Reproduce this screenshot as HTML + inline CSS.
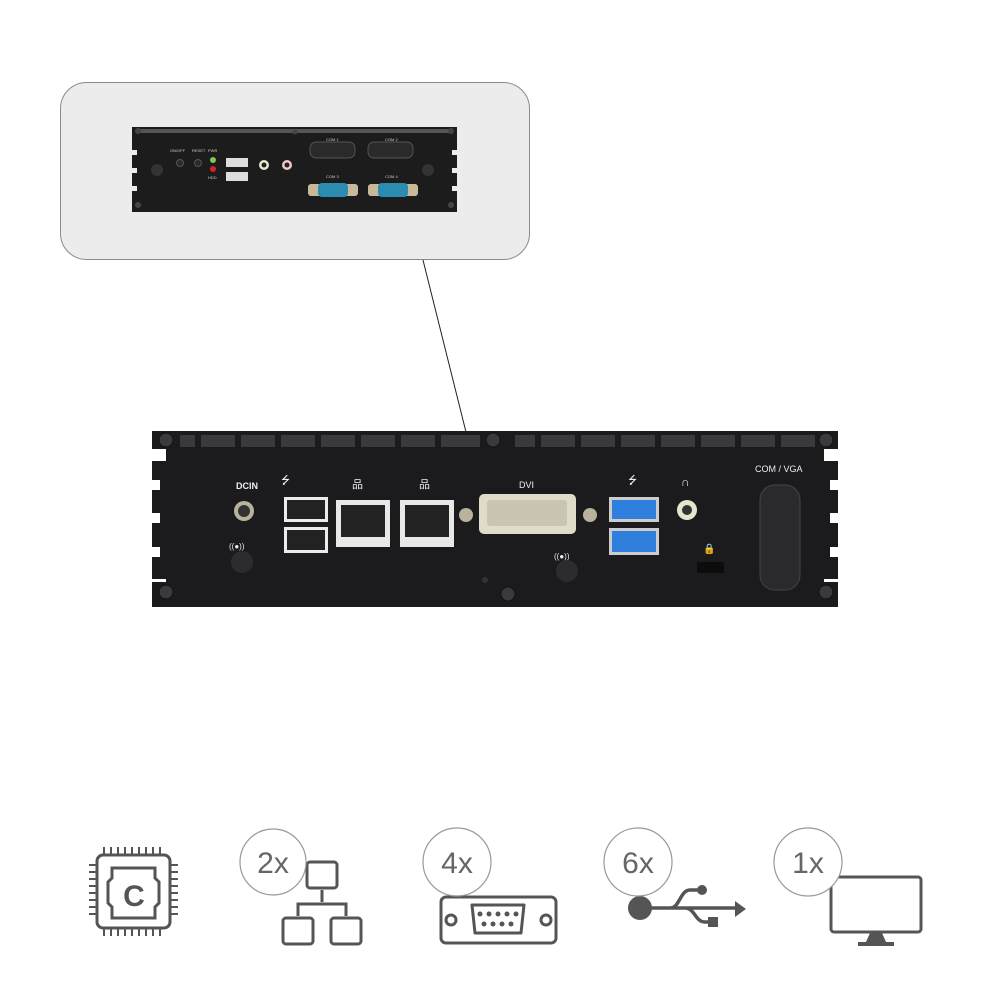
<!DOCTYPE html>
<html><head><meta charset="utf-8"><style>
html,body{margin:0;padding:0;background:#fff;}
svg{display:block}
text{font-family:"Liberation Sans",sans-serif}
</style></head><body>
<svg width="1000" height="1000" viewBox="0 0 1000 1000" xmlns="http://www.w3.org/2000/svg">
<rect x="60.5" y="82.5" width="469" height="177" rx="26" fill="#ececec" stroke="#8a8a8a" stroke-width="1"/>
<rect x="132" y="127" width="325" height="85" fill="#1c1c1c"/>
<g fill="#555"><rect x="140" y="129" width="310" height="4"/></g>
<g fill="#ececec">
<rect x="132" y="150" width="5" height="5"/><rect x="132" y="168" width="5" height="5"/><rect x="132" y="186" width="5" height="5"/>
<rect x="452" y="150" width="5" height="5"/><rect x="452" y="168" width="5" height="5"/><rect x="452" y="186" width="5" height="5"/>
</g>
<g fill="#444"><circle cx="138" cy="131" r="3"/><circle cx="451" cy="131" r="3"/><circle cx="138" cy="205" r="3"/><circle cx="451" cy="205" r="3"/><circle cx="295" cy="132" r="2.5"/></g>
<circle cx="157" cy="170" r="6" fill="#333"/><circle cx="428" cy="170" r="6" fill="#333"/>
<circle cx="180" cy="163" r="3.5" fill="#2a2a2a" stroke="#555"/><circle cx="198" cy="163" r="3.5" fill="#2a2a2a" stroke="#555"/>
<circle cx="213" cy="160" r="3" fill="#7ec850"/><circle cx="213" cy="169" r="3" fill="#e02020"/>
<rect x="226" y="158" width="22" height="9" fill="#ddd"/><rect x="226" y="172" width="22" height="9" fill="#ddd"/>
<circle cx="264" cy="165" r="5" fill="#e8e8d0"/><circle cx="264" cy="165" r="2.5" fill="#222"/>
<circle cx="287" cy="165" r="5" fill="#f0c8c8"/><circle cx="287" cy="165" r="2.5" fill="#222"/>
<rect x="310" y="142" width="45" height="16" rx="6" fill="#2a2a2a" stroke="#666" stroke-width="0.7"/>
<rect x="368" y="142" width="45" height="16" rx="6" fill="#2a2a2a" stroke="#666" stroke-width="0.7"/>
<rect x="308" y="184" width="50" height="12" rx="3" fill="#c9b89a"/><rect x="318" y="183" width="30" height="14" rx="4" fill="#2b8bb0"/>
<rect x="368" y="184" width="50" height="12" rx="3" fill="#c9b89a"/><rect x="378" y="183" width="30" height="14" rx="4" fill="#2b8bb0"/>
<g fill="#ccc" font-size="4"><text x="170" y="152">ON/OFF</text><text x="192" y="152">RESET</text><text x="208" y="152">PWR</text><text x="208" y="179">HDD</text><text x="326" y="141">COM 1</text><text x="385" y="141">COM 2</text><text x="326" y="178">COM 3</text><text x="385" y="178">COM 4</text></g>
<line x1="423" y1="260" x2="470" y2="448" stroke="#222" stroke-width="1"/>
<rect x="152" y="431" width="686" height="176" fill="#1b1b1d"/>
<g fill="#3a3a3c">
<rect x="180" y="435" width="300" height="12"/><rect x="515" y="435" width="300" height="12"/>
</g>
<g fill="#1b1b1d">
<rect x="195" y="431" width="6" height="16"/><rect x="235" y="431" width="6" height="16"/><rect x="275" y="431" width="6" height="16"/><rect x="315" y="431" width="6" height="16"/><rect x="355" y="431" width="6" height="16"/><rect x="395" y="431" width="6" height="16"/><rect x="435" y="431" width="6" height="16"/>
<rect x="535" y="431" width="6" height="16"/><rect x="575" y="431" width="6" height="16"/><rect x="615" y="431" width="6" height="16"/><rect x="655" y="431" width="6" height="16"/><rect x="695" y="431" width="6" height="16"/><rect x="735" y="431" width="6" height="16"/><rect x="775" y="431" width="6" height="16"/>
</g>
<g fill="#fff">
<rect x="152" y="449" width="14" height="12"/><rect x="152" y="480" width="8" height="10"/><rect x="152" y="513" width="8" height="10"/><rect x="152" y="547" width="8" height="10"/><rect x="152" y="579" width="14" height="3"/>
<rect x="824" y="449" width="14" height="12"/><rect x="830" y="480" width="8" height="10"/><rect x="830" y="513" width="8" height="10"/><rect x="830" y="547" width="8" height="10"/><rect x="824" y="579" width="14" height="3"/>
</g>
<g fill="#3a3a3c" stroke="#111" stroke-width="1">
<circle cx="166" cy="440" r="7"/><circle cx="826" cy="440" r="7"/><circle cx="166" cy="592" r="7"/><circle cx="826" cy="592" r="7"/><circle cx="493" cy="440" r="7"/><circle cx="508" cy="594" r="7"/>
</g>
<circle cx="485" cy="580" r="3" fill="#333"/>
<g fill="#eee" font-size="9">
<text x="236" y="489" font-weight="bold">DCIN</text>
<text x="519" y="488">DVI</text>
<text x="755" y="472" font-size="9">COM / VGA</text>
<text x="229" y="549" font-size="8">((●))</text>
<text x="554" y="559" font-size="8">((●))</text>
<text x="281" y="484" font-size="11">⭍</text>
<text x="628" y="484" font-size="11">⭍</text>
<text x="352" y="488" font-size="11">品</text><text x="419" y="488" font-size="11">品</text>
<text x="681" y="486" font-size="12">∩</text>
<text x="703" y="552" font-size="10">🔒</text>
</g>
<circle cx="244" cy="511" r="10" fill="#b8b39a"/><circle cx="244" cy="511" r="6" fill="#333"/>
<circle cx="242" cy="562" r="11" fill="#2c2c2e"/><circle cx="567" cy="571" r="11" fill="#2c2c2e"/>
<rect x="284" y="497" width="44" height="25" fill="#ececec"/><rect x="287" y="500" width="38" height="19" fill="#222"/>
<rect x="284" y="527" width="44" height="26" fill="#ececec"/><rect x="287" y="530" width="38" height="20" fill="#222"/>
<rect x="336" y="500" width="54" height="47" fill="#e8e8e8"/><rect x="341" y="505" width="44" height="32" fill="#222"/>
<rect x="400" y="500" width="54" height="47" fill="#e8e8e8"/><rect x="405" y="505" width="44" height="32" fill="#222"/>
<circle cx="466" cy="515" r="7" fill="#b8b39a"/><circle cx="590" cy="515" r="7" fill="#b8b39a"/>
<rect x="479" y="494" width="97" height="40" rx="5" fill="#e0dccc"/><rect x="487" y="500" width="80" height="26" rx="3" fill="#c9c5b2"/>
<rect x="609" y="497" width="50" height="25" fill="#ccc"/><rect x="612" y="500" width="44" height="19" fill="#2f7fdc"/>
<rect x="609" y="528" width="50" height="27" fill="#ccc"/><rect x="612" y="531" width="44" height="21" fill="#2f7fdc"/>
<circle cx="687" cy="510" r="10" fill="#e6e6cc"/><circle cx="687" cy="510" r="5" fill="#333"/>
<rect x="697" y="562" width="27" height="11" rx="2" fill="#0c0c0c"/>
<rect x="760" y="485" width="40" height="105" rx="15" fill="#2a2a2c" stroke="#444"/>
<g fill="none" stroke="#555" stroke-width="3">
<rect x="97" y="855" width="73" height="73" rx="6"/>
<path d="M112 868 H155 V878 L159 882 V903 L155 907 V918 H112 V907 L108 903 V882 L112 878 Z"/>
</g>
<g stroke="#555" stroke-width="2">
<path d="M104 847v7M111 847v7M118 847v7M125 847v7M132 847v7M139 847v7M146 847v7M153 847v7M160 847v7"/>
<path d="M104 929v7M111 929v7M118 929v7M125 929v7M132 929v7M139 929v7M146 929v7M153 929v7M160 929v7"/>
<path d="M89 865h7M89 872h7M89 879h7M89 886h7M89 893h7M89 900h7M89 907h7M89 914h7"/>
<path d="M171 865h7M171 872h7M171 879h7M171 886h7M171 893h7M171 900h7M171 907h7M171 914h7"/>
</g>
<text x="134" y="906" text-anchor="middle" font-size="30" font-weight="bold" fill="#555">C</text>
<g fill="#fff" stroke="#555" stroke-width="3">
<rect x="307" y="862" width="30" height="26" rx="3"/>
<rect x="283" y="918" width="30" height="26" rx="3"/><rect x="331" y="918" width="30" height="26" rx="3"/>
</g>
<path d="M322 890v12M298 916v-12h48v12" fill="none" stroke="#555" stroke-width="3"/>
<g fill="none" stroke="#555" stroke-width="3">
<rect x="441" y="897" width="115" height="46" rx="5"/>
<path d="M472 905 H524 L521 933 H475 Z" stroke-linejoin="round"/>
<circle cx="451" cy="920" r="5"/><circle cx="546" cy="920" r="5"/>
</g>
<g fill="#555"><circle cx="480" cy="914" r="2.5"/><circle cx="489" cy="914" r="2.5"/><circle cx="498" cy="914" r="2.5"/><circle cx="507" cy="914" r="2.5"/><circle cx="516" cy="914" r="2.5"/><circle cx="484" cy="924" r="2.5"/><circle cx="493" cy="924" r="2.5"/><circle cx="502" cy="924" r="2.5"/><circle cx="511" cy="924" r="2.5"/></g>
<g fill="#555">
<circle cx="640" cy="908" r="12"/>
<path d="M735 901 L746 909 L735 917 Z"/>
<circle cx="702" cy="890" r="5"/>
<rect x="708" y="917" width="10" height="10"/>
</g>
<path d="M645 908 H738 M670 908 C680 908 680 890 690 890 H702 M685 908 C695 908 695 922 705 922 H712" fill="none" stroke="#555" stroke-width="3.5"/>
<rect x="831" y="877" width="90" height="55" rx="3" fill="#fff" stroke="#555" stroke-width="3"/>
<path d="M870 933 L866 942 H886 L882 933 Z" fill="#555"/><rect x="858" y="942" width="36" height="4" fill="#555"/>
<g fill="#fff" stroke="#999" stroke-width="1.2">
<circle cx="273" cy="862" r="33"/><circle cx="457" cy="862" r="34"/><circle cx="638" cy="862" r="34"/><circle cx="808" cy="862" r="34"/>
</g>
<g fill="#666" font-size="30" text-anchor="middle"><text x="273" y="873">2x</text><text x="457" y="873">4x</text><text x="638" y="873">6x</text><text x="808" y="873">1x</text></g>
</svg>
</body></html>
